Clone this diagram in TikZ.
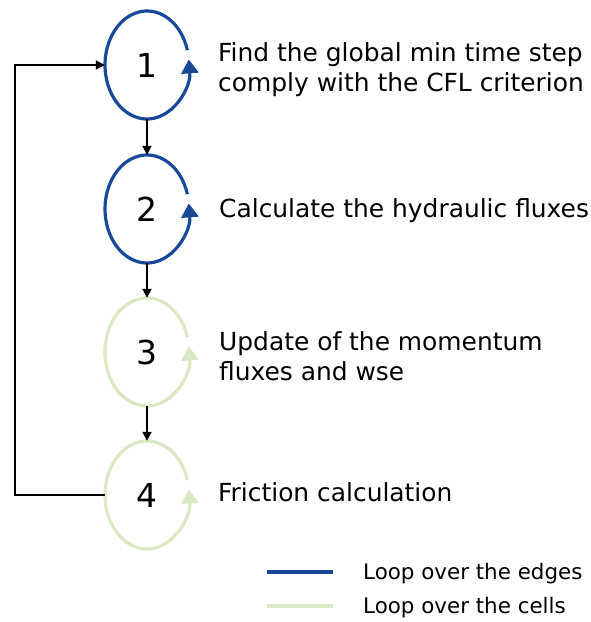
\documentclass[tikz,border=0pt]{standalone}
\usepackage{fontspec}
\setmainfont{DejaVu Sans}
\usepackage{tikz}
\usetikzlibrary{calc,positioning,arrows.meta,shapes.geometric}
\definecolor{edgeblue}{RGB}{23,72,153}
\definecolor{cellgreen}{RGB}{218,232,196}

\begin{document}
\begin{tikzpicture}[x=1pt, y=1pt,
  stepnode/.style={ellipse, minimum width=84pt, minimum height=108pt,
    inner sep=0pt, font=\fontsize{33}{40}\selectfont},
  loopline/.style={line width=3.2pt, -{Triangle[length=14pt, width=17pt]}},
  label/.style={anchor=base west, align=left, inner sep=0pt,
    font=\fontsize{24.9}{30}\selectfont},
  flow/.style={-{Triangle[length=9pt, width=9pt]}, line width=1.8pt},
  legtext/.style={anchor=base west, inner sep=0pt,
    font=\fontsize{21.4}{25}\selectfont},
]
  \useasboundingbox (0,0) rectangle (590,-622);

  % the four steps
  \node[stepnode] (s1) at (147,-65) {1};
  \node[stepnode] (s2) at (147,-209) {2};
  \node[stepnode] (s3) at (147,-352) {3};
  \node[stepnode] (s4) at (147,-495) {4};

  \foreach \s/\c in {s1/edgeblue, s2/edgeblue, s3/cellgreen, s4/cellgreen}
    \draw[loopline, \c] ([shift={(16:42pt and 54pt)}]\s.center)
      arc[start angle=16, end angle=366, x radius=42pt, y radius=54pt];

  % descriptions
  \node[label] (t1) at (218,-91) {Find the global min time step\\
    comply with the CFL criterion};
  \node[label] (t2) at (219,-217) {Calculate the hydraulic fluxes};
  \node[label] (t3) at (219,-380) {Update of the momentum\\fluxes and wse};
  \node[label] (t4) at (218,-501) {Friction calculation};

  % sequence
  \draw[flow] (s1.south) -- (s2.north);
  \draw[flow] (s2.south) -- (s3.north);
  \draw[flow] (s3.south) -- (s4.north);
  \draw[flow] (s4.west) -- ++(-90,0) |- (s1.west);

  % legend
  \coordinate (le1) at (267,-572);
  \coordinate (le2) at (267,-606);
  \draw[edgeblue, line width=3.5pt] (le1) -- ++(66,0);
  \draw[cellgreen, line width=3.5pt] (le2) -- ++(66,0);
  \node[legtext] (l1) at (363,-579) {Loop over the edges};
  \node[legtext] (l2) at (363,-613) {Loop over the cells};
\end{tikzpicture}
\end{document}
